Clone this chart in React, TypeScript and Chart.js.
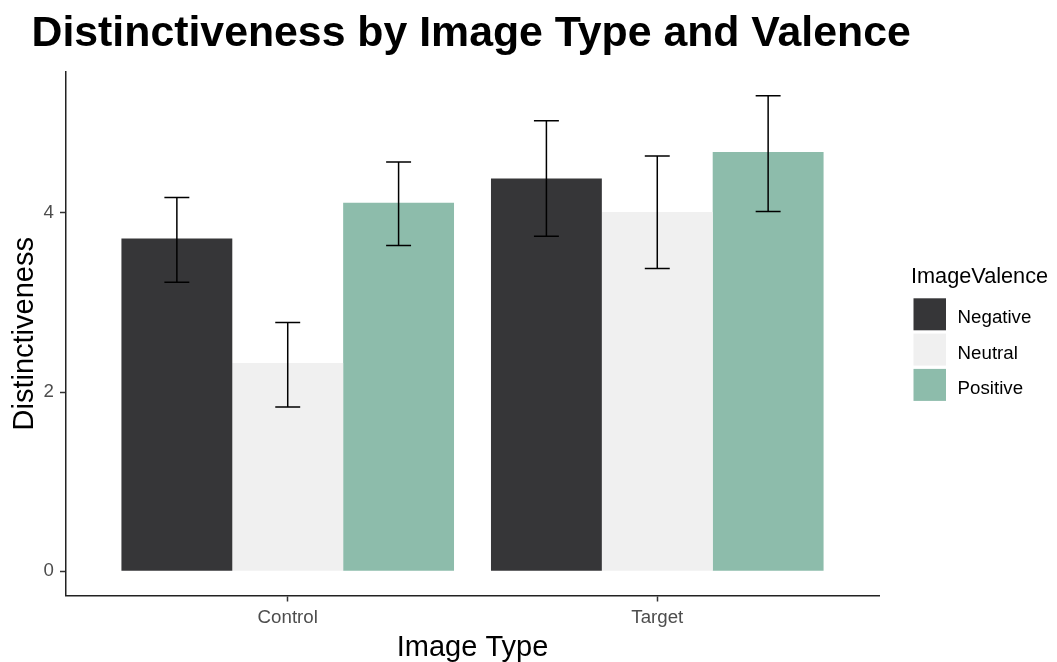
import React, { useEffect, useRef } from 'react';
import { Chart, registerables } from 'chart.js';

Chart.register(...registerables);

const FONT = "'Liberation Sans', Arial, sans-serif";

const chartTitle = 'Distinctiveness by Image Type and Valence';
const xTitle = 'Image Type';
const yTitle = 'Distinctiveness';
const legendTitle = 'ImageValence';

const imageTypes = ['Control', 'Target'];
const valences = ['Negative', 'Neutral', 'Positive'];
const negativeMeans = [3.714, 4.384];
const neutralMeans = [2.325, 4.008];
const positiveMeans = [4.111, 4.677];
const negativeLower = [3.226, 3.739];
const negativeUpper = [4.172, 5.028];
const neutralLower = [1.834, 3.379];
const neutralUpper = [2.776, 4.633];
const positiveLower = [3.636, 4.015];
const positiveUpper = [4.566, 5.306];
const yTicks = [0, 2, 4];
const valenceColors = ['#363638', '#f0f0f0', '#8dbcab'];

const meansByValence = [negativeMeans, neutralMeans, positiveMeans];
const lowerByValence = [negativeLower, neutralLower, positiveLower];
const upperByValence = [negativeUpper, neutralUpper, positiveUpper];

const errorBarPlugin = {
  id: 'errorBars',
  afterDatasetsDraw(chart: any) {
    const ctx = chart.ctx;
    const yScale = chart.scales.y;
    ctx.save();
    ctx.strokeStyle = '#000000';
    ctx.lineWidth = 1.5;
    chart.data.datasets.forEach((ds: any, i: number) => {
      const meta = chart.getDatasetMeta(i);
      meta.data.forEach((bar: any, j: number) => {
        const lo = yScale.getPixelForValue(ds.errLow[j]);
        const hi = yScale.getPixelForValue(ds.errHigh[j]);
        const half = bar.width * 0.1125;
        const x = bar.x;
        ctx.beginPath();
        ctx.moveTo(x, lo);
        ctx.lineTo(x, hi);
        ctx.moveTo(x - half, lo);
        ctx.lineTo(x + half, lo);
        ctx.moveTo(x - half, hi);
        ctx.lineTo(x + half, hi);
        ctx.stroke();
      });
    });
    ctx.restore();
  },
};

const decorPlugin = {
  id: 'decor',
  afterDraw(chart: any) {
    const ctx = chart.ctx;
    ctx.save();
    // Title
    ctx.fillStyle = '#000000';
    ctx.font = `bold 42.8px ${FONT}`;
    ctx.textAlign = 'left';
    ctx.textBaseline = 'alphabetic';
    ctx.fillText(chartTitle, 31.5, 45.7);

    // Legend
    ctx.font = `21.7px ${FONT}`;
    ctx.textBaseline = 'middle';
    ctx.fillText(legendTitle, 911, 277.5);
    ctx.font = `18.7px ${FONT}`;
    chart.data.datasets.forEach((ds: any, i: number) => {
      const top = 298.3 + i * 35.3;
      ctx.fillStyle = ds.backgroundColor;
      ctx.fillRect(913.5, top, 32.5, 32);
      ctx.fillStyle = '#000000';
      ctx.fillText(ds.label, 957.6, top + 16 + 3.8);
    });
    ctx.restore();
  },
};

export default function App() {
  const canvasRef = useRef<HTMLCanvasElement | null>(null);

  useEffect(() => {
    if (!canvasRef.current) return;
    const datasets = valences.map((v, i) => ({
      label: v,
      data: imageTypes.map((_, j) => ({ x: j + 1, y: meansByValence[i][j] })),
      errLow: lowerByValence[i],
      errHigh: upperByValence[i],
      backgroundColor: valenceColors[i],
      borderWidth: 0,
      categoryPercentage: 0.9,
      barPercentage: 1.0,
    }));

    const chart = new Chart(canvasRef.current, {
      type: 'bar',
      data: { datasets: datasets as any },
      plugins: [errorBarPlugin, decorPlugin],
      options: {
        animation: false,
        responsive: true,
        maintainAspectRatio: false,
        layout: { padding: { top: 72, right: 178, left: 0, bottom: 0 } },
        plugins: {
          legend: { display: false },
          title: { display: false },
          tooltip: { enabled: false },
        },
        scales: {
          x: {
            type: 'linear',
            min: 0.4,
            max: 2.6,
            offset: false,
            afterBuildTicks: (scale: any) => {
              scale.ticks = imageTypes.map((_, j) => ({ value: j + 1 }));
            },
            afterFit: (scale: any) => {
              scale.height = 66.5;
            },
            ticks: {
              callback: (value: any) => imageTypes[Math.round(value) - 1] ?? '',
              color: '#4d4d4d',
              font: { family: FONT, size: 18.7 },
              padding: 5.3,
              maxRotation: 0,
              autoSkip: false,
            },
            grid: {
              display: true,
              drawOnChartArea: false,
              offset: false,
              tickLength: 6,
              tickColor: '#333333',
              tickWidth: 1.5,
            },
            border: { display: true, color: '#222222', width: 1.5 },
            title: {
              display: true,
              text: xTitle,
              color: '#000000',
              font: { family: FONT, size: 29, lineHeight: 1 },
              padding: { top: 1, bottom: 0 },
            },
          },
          y: {
            type: 'linear',
            min: -0.27,
            max: 5.571,
            afterBuildTicks: (scale: any) => {
              scale.ticks = yTicks.map((v) => ({ value: v }));
            },
            afterFit: (scale: any) => {
              scale.width = 66;
            },
            ticks: {
              color: '#4d4d4d',
              font: { family: FONT, size: 18.7 },
              padding: 6,
            },
            grid: {
              display: true,
              drawOnChartArea: false,
              tickLength: 6,
              tickColor: '#333333',
              tickWidth: 1.5,
            },
            border: { display: true, color: '#222222', width: 1.5 },
            title: {
              display: true,
              text: yTitle,
              color: '#000000',
              font: { family: FONT, size: 29, lineHeight: 1 },
              padding: { top: 10.5, bottom: 0 },
            },
          },
        },
      } as any,
    });
    return () => chart.destroy();
  }, []);

  return (
    <div style={{ position: 'absolute', left: 0, top: 0, width: 1057, height: 662, background: '#ffffff' }}>
      <canvas ref={canvasRef} />
    </div>
  );
}
